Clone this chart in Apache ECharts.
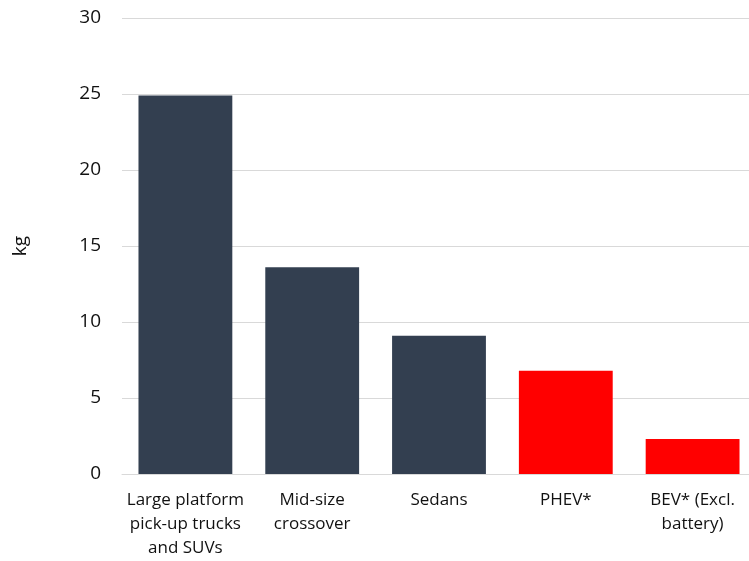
<!DOCTYPE html>
<html>
<head>
<meta charset="utf-8">
<script src="https://cdn.jsdelivr.net/npm/echarts@6/dist/echarts.min.js"></script>
<style>
  html, body { margin: 0; padding: 0; background: #fff; overflow: hidden; }
  /* plot area runs slightly past the right edge of the window */
  #chart { width: 756px; height: 561px; }
</style>
</head>
<body>
<div id="chart"></div>
<script>
// Weight per vehicle type
const categories = [
  'Large platform\npick-up trucks\nand SUVs',
  'Mid-size\ncrossover',
  'Sedans',
  'PHEV*',
  'BEV* (Excl.\nbattery)'
];
const values = [24.9, 13.6, 9.1, 6.8, 2.3];
const barColors = ['#333f50', '#333f50', '#333f50', '#ff0000', '#ff0000'];
const yTicks = [0, 5, 10, 15, 20, 25, 30];

const chart = echarts.init(document.getElementById('chart'));
chart.setOption({
  animation: false,
  grid: { left: 122, right: 0, top: 18, height: 456 },
  xAxis: {
    type: 'category',
    data: categories,
    axisLine: { lineStyle: { color: '#d9d9d9', width: 1 } },
    axisTick: { show: false },
    axisLabel: {
      interval: 0,
      color: '#111',
      fontFamily: 'Open Sans',
      fontSize: 17,
      lineHeight: 24,
      margin: 14
    }
  },
  yAxis: {
    type: 'value',
    min: yTicks[0],
    max: yTicks[yTicks.length - 1],
    interval: 5,
    name: 'kg',
    nameLocation: 'middle',
    nameGap: 92,
    nameRotate: 90,
    nameTextStyle: { color: '#111', fontFamily: 'Open Sans', fontSize: 19 },
    axisLine: { show: false },
    axisTick: { show: false },
    axisLabel: { color: '#111', fontFamily: 'Open Sans', fontSize: 19, margin: 21 },
    splitLine: { lineStyle: { color: '#d9d9d9', width: 1 } }
  },
  series: [{
    type: 'bar',
    data: values.map((v, i) => ({ value: v, itemStyle: { color: barColors[i] } })),
    barCategoryGap: '26%'
  }]
});
</script>
</body>
</html>
